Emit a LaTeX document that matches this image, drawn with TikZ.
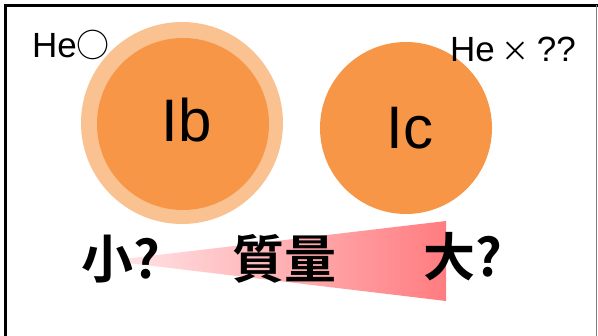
\documentclass[tikz,border=0pt]{standalone}
\usepackage{fontspec}
\setmainfont{Liberation Sans}
\newfontfamily\jpfont{Noto Sans CJK JP}
\newfontfamily\jpbold{Noto Sans CJK JP Bold}
\definecolor{orangeC}{HTML}{F79646}
\definecolor{orangeL}{HTML}{FAC191}
\definecolor{pinkL}{HTML}{FFE2E4}
\definecolor{pinkR}{HTML}{FF7C80}
\tikzset{
  bigtxt/.style={font=\fontsize{60}{60}\selectfont, text=black, inner sep=0pt},
  smalltxt/.style={font=\fontsize{35}{35}\selectfont, text=black, inner sep=0pt, anchor=base west},
  jptxt/.style={font=\jpbold\fontsize{52}{52}\selectfont, text=black, inner sep=0pt},
}
\begin{document}
\begin{tikzpicture}[x=1pt,y=-1pt]
\useasboundingbox (0,0) rectangle (598,336);
% frame
\draw[line width=3pt, black] (5.5,340) -- (5.5,5.5) -- (598,5.5);
\draw[line width=1pt, gray] (596.5,5.5) -- (596.5,340);
% circles
\fill[orangeL] (182,123) circle (101);
\node[circle, fill=orangeC, minimum size=172pt, inner sep=0pt] (ib) at (183,124) {};
\node[circle, fill=orangeC, minimum size=172pt, inner sep=0pt] (ic) at (406,128) {};
\node[bigtxt] (ibt) at (187,120) {Ib};
\node[bigtxt] (ict) at (410,128) {Ic};
% labels
\node[smalltxt] (he1) at (32,58) {He{\jpfont\fontsize{33}{33}\selectfont ○}};
\node[smalltxt] (he2) at (450,62) {He\hspace{7pt}{\jpfont\fontsize{28}{28}\selectfont ×}\hspace{7pt}??};
% wedge
\shade[left color=pinkL, right color=pinkR] (128,258.5) -- (446,221) -- (446,301) -- (128,263) -- cycle;
% bottom text
\node[jptxt] (small) at (121,259) {小?};
\node[jptxt] (mass) at (284,259) {質量};
\node[jptxt] (big) at (463,257) {大?};
\end{tikzpicture}
\end{document}
